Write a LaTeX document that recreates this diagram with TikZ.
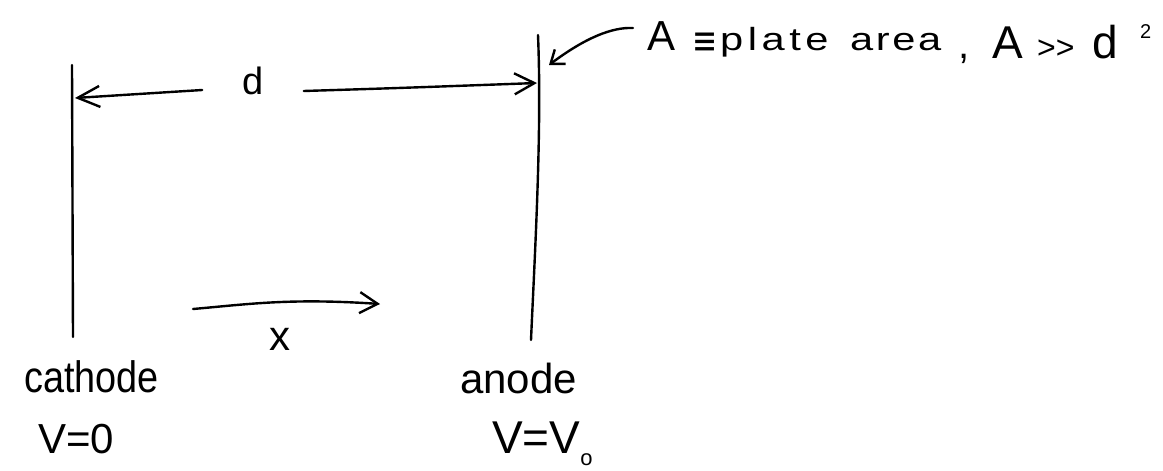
\documentclass[tikz,border=0pt]{standalone}
\usepackage{fontspec}
\usepackage{graphicx}
\setmainfont{Liberation Sans}
\newfontfamily\symfam{DejaVu Sans}
\usetikzlibrary{arrows.meta}
\makeatletter
\newcommand\trk[2]{\def\trk@k{\kern#1}\trk@x#2\relax}
\def\trk@x#1{\ifx#1\relax\else#1\trk@k\expandafter\trk@x\fi}
\makeatother
\newcommand\fs[1]{\fontsize{#1}{#1}\selectfont}
\tikzset{
  ink/.style={line width=2.4pt, black, line cap=round, line join=round},
  barb/.style={ink, -{Straight Barb[length=#1pt,width=21pt,line width=2.4pt]}},
  barb/.default=20,
  hand/.style={inner sep=0pt},
}
\begin{document}
\begin{tikzpicture}[x=1pt,y=-1pt]
\useasboundingbox (0,0) rectangle (1163,471);
% plates
\coordinate (ct) at (72,65);
\coordinate (cb) at (73,337);
\coordinate (at) at (538,35);
\coordinate (ab) at (531,340);
\draw[ink] (ct) -- (cb);
\draw[ink] (at) .. controls (542,130) and (535,250) .. (ab);
% d dimension
\node[hand, inner xsep=40pt] (d) at (253,80.5) {\fs{38}d};
\coordinate (dL) at (75,98);
\coordinate (dR) at (537,83);
\draw[barb=22] (d.west |- 0,90) -- (dL);
\draw[barb=20] (d.east |- 0,91) .. controls (400,88) .. (dR);
% plate area label
\node[hand, anchor=base west] (A) at (647,50) {%
  \makebox[45pt][l]{\fs{42}A}%
  \makebox[28pt][l]{\raisebox{-4pt}{\scalebox{0.75}[1]{\fs{40}\symfam ≡}}}%
  \makebox[130pt][l]{\scalebox{1.3}[1]{\fs{32}\trk{3.5pt}{plate}}}%
  \makebox[108pt][l]{\scalebox{1.3}[1]{\fs{32}\trk{2pt}{area}}}%
  \raisebox{-8pt}{%
  \makebox[34pt][l]{\fs{40},}%
  \makebox[45pt][l]{\fs{46}A}%
  \makebox[55pt][l]{\fs{32}>{}>}%
  \makebox[48pt][l]{\fs{46}d}}%
  \raisebox{12pt}{\fs{20}2}};
\coordinate (As) at (633,28);
\coordinate (Atip) at (549,65);
\draw[ink, -{Straight Barb[length=12pt,width=18pt,line width=2.4pt]}] (As) .. controls (612,27) and (585,38) .. (Atip);
% x arrow
\coordinate (xs) at (193,309);
\coordinate (xe) at (380,304);
\draw[barb=18] (xs) .. controls (250,304) and (290,298) .. (xe);
\node[hand] (x) at (280,339) {\fs{42}x};
% labels
\node[hand, anchor=base west] (cath) at (24,392) {\scalebox{0.86}[1]{\fs{44}cathode}};
\node[hand, anchor=base west] (cV) at (38,453) {\fs{42}V=0};
\node[hand, anchor=base west] (an) at (460,393) {\fs{42}anode};
\node[hand, anchor=base west] (aV) at (492,453) {\fs{46}V=V\raisebox{-12pt}{\fs{22}o}};
\end{tikzpicture}
\end{document}
